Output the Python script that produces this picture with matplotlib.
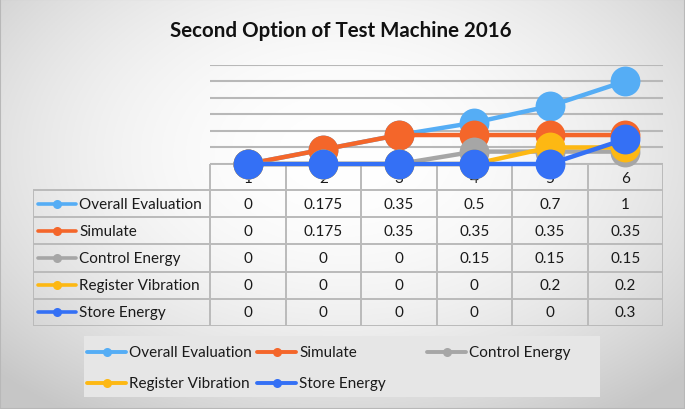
import numpy as np
import matplotlib
matplotlib.use("Agg")
import matplotlib.pyplot as plt
from matplotlib.patches import Rectangle

plt.rcParams["font.family"] = ["Lato", "DejaVu Sans"]

categories = ["1", "2", "3", "4", "5", "6"]
series_names = [
    "Overall Evaluation",
    "Simulate",
    "Control Energy",
    "Register Vibration",
    "Store Energy",
]
overall = [0, 0.175, 0.35, 0.5, 0.7, 1]
simulate = [0, 0.175, 0.35, 0.35, 0.35, 0.35]
control = [0, 0, 0, 0.15, 0.15, 0.15]
register = [0, 0, 0, 0, 0.2, 0.2]
store = [0, 0, 0, 0, 0, 0.3]
series_values = [overall, simulate, control, register, store]
colors = ["#55adf5", "#f4662a", "#a6a6a6", "#fdb813", "#3470f5"]

W, H = 685, 410
FS = 11


def fx(px):
    return px / W


def fy(py):
    return 1 - py / H


fig = plt.figure(figsize=(6.85, 4.10), dpi=100)

# background gradient
bg = fig.add_axes([0, 0, 1, 1], zorder=-10)
gx, gy = np.meshgrid(np.linspace(-1, 1, 400), np.linspace(-1, 1, 240))
r = np.sqrt((gx / 1.0) ** 2 + ((gy + 0.25) / 1.1) ** 2)
shade = 1 - 0.22 * np.clip(r, 0, 1.4) ** 2 / 1.96
bg.imshow(np.dstack([shade] * 3), aspect="auto", extent=[0, 1, 0, 1])
bg.add_patch(Rectangle((0, 0), 1, 1, fill=False, ec="#b8b8b8", lw=1.5,
                       transform=bg.transAxes))
bg.axis("off")

fig.text(0.498, fy(31), "Second Option of Test Machine 2016",
         ha="center", va="center", fontsize=14.8, fontweight="bold",
         color="#111111")

# chart area
col_w = 75.5
x_left, x_right = 210, 210 + 6 * col_w
y_zero, y_top = 165, 65.7
ax = fig.add_axes([fx(x_left), fy(y_zero), (x_right - x_left) / W,
                   (y_zero - y_top) / H], zorder=5)
ax.patch.set_alpha(0)
x = np.arange(1, len(categories) + 1)
for name, vals, c in zip(series_names, series_values, colors):
    ax.plot(x, vals, color=c, lw=3.2, marker="o", markersize=21.5,
            markeredgewidth=0, clip_on=False, solid_capstyle="round",
            label=name)
ax.set_xlim(0.5, 6.5)
ax.set_ylim(0, 1.2)
ax.set_yticks(np.arange(0, 1.21, 0.2))
ax.yaxis.grid(True, color="#b8b8b8", lw=1.5)
ax.set_axisbelow(True)
ax.tick_params(left=False, bottom=False, labelleft=False, labelbottom=False)
for s in ax.spines.values():
    s.set_visible(False)

# data table
t_left, t_bottom = 33, 327
row_edges = [165, 191] + [191 + 27.2 * (i + 1) for i in range(5)]
tab = fig.add_axes([fx(t_left), fy(t_bottom), (x_right - t_left) / W,
                    (t_bottom - y_zero) / H], zorder=2)
tab.patch.set_alpha(0)
tab.set_xlim(0.5 - (x_left - t_left) / col_w, 6.5)
tab.set_ylim(t_bottom, y_zero)
tab.axis("off")


def px_to_cat(px):
    return 0.5 + (px - x_left) / col_w


grid_kw = dict(color="#bababa", lw=1.4)
xl = tab.get_xlim()
tab.hlines(row_edges[0], 0.5, 6.5, **grid_kw)
tab.hlines(row_edges[1:], xl[0], 6.5, **grid_kw)
tab.vlines(np.arange(0.5, 7.0, 1.0), row_edges[0], row_edges[-1], **grid_kw)
tab.vlines(xl[0], row_edges[1], row_edges[-1], **grid_kw)

for i, cat in enumerate(categories):
    tab.text(i + 1, (row_edges[0] + row_edges[1]) / 2 + 1, cat,
             ha="center", va="center", fontsize=FS, color="#1a1a1a")

for r_i, (name, vals, c) in enumerate(zip(series_names, series_values, colors)):
    yc = (row_edges[r_i + 1] + row_edges[r_i + 2]) / 2
    tab.plot([px_to_cat(38), px_to_cat(76)], [yc, yc], color=c, lw=2.6,
             solid_capstyle="round")
    tab.plot(px_to_cat(57), yc, "o", color=c, markersize=6.5, mew=0)
    tab.text(px_to_cat(79), yc, name, ha="left", va="center",
             fontsize=FS, color="#1a1a1a")
    for i, v in enumerate(vals):
        tab.text(i + 1, yc, f"{v:g}", ha="center", va="center",
                 fontsize=FS, color="#1a1a1a")

# legend box
lg_l, lg_r, lg_t, lg_b = 84, 600, 337, 398
lg = fig.add_axes([fx(lg_l), fy(lg_b), (lg_r - lg_l) / W, (lg_b - lg_t) / H],
                  zorder=2)
lg.set_xlim(lg_l, lg_r)
lg.set_ylim(lg_b, lg_t)
lg.set_facecolor("#e6e6e6")
lg.set_xticks([])
lg.set_yticks([])
for s in lg.spines.values():
    s.set_visible(False)

leg_cols = [87, 257, 427]
leg_rows = [353, 384]
for k, (name, c) in enumerate(zip(series_names, colors)):
    lx = leg_cols[k % 3]
    ly = leg_rows[k // 3]
    lg.plot([lx, lx + 39], [ly, ly], color=c, lw=2.8, solid_capstyle="round")
    lg.plot(lx + 19.5, ly, "o", color=c, markersize=6.5, mew=0)
    lg.text(lx + 42, ly, name, ha="left", va="center", fontsize=FS,
            color="#1a1a1a")

fig.savefig("out.png", dpi=100)
